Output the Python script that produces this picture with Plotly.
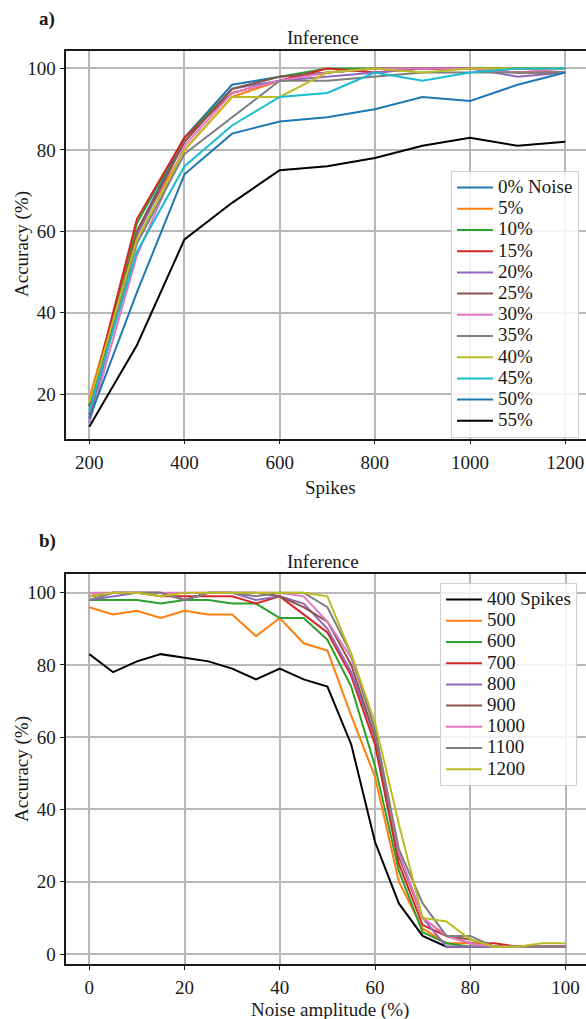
import plotly.graph_objects as go

# ---------------- data: panel a ----------------
spikes = [200, 300, 400, 500, 600, 700, 800, 900, 1000, 1100, 1200]
noise_labels = ["0% Noise", "5%", "10%", "15%", "20%", "25%", "30%", "35%",
                "40%", "45%", "50%", "55%"]
acc_n0 = [13, 60, 83, 96, 98, 99, 100, 100, 100, 100, 100]
acc_n5 = [19, 60, 80, 93, 97, 99, 100, 100, 100, 100, 100]
acc_n10 = [17, 62, 83, 95, 98, 100, 100, 100, 100, 100, 100]
acc_n15 = [17, 63, 83, 94, 97, 100, 99, 100, 100, 99, 99]
acc_n20 = [14, 59, 82, 95, 97, 98, 99, 100, 100, 98, 99]
acc_n25 = [15, 60, 82, 95, 98, 99, 100, 100, 100, 99, 99]
acc_n30 = [13, 54, 81, 94, 97, 99, 100, 100, 100, 99, 100]
acc_n35 = [15, 57, 79, 88, 97, 97, 98, 99, 99, 99, 99]
acc_n40 = [18, 58, 80, 93, 93, 99, 100, 99, 100, 100, 100]
acc_n45 = [16, 55, 76, 86, 93, 94, 99, 97, 99, 100, 100]
acc_n50 = [14, 45, 74, 84, 87, 88, 90, 93, 92, 96, 99]
acc_n55 = [12, 32, 58, 67, 75, 76, 78, 81, 83, 81, 82]

# ---------------- data: panel b ----------------
noise = [0, 5, 10, 15, 20, 25, 30, 35, 40, 45, 50, 55, 60, 65, 70, 75, 80, 85, 90, 95, 100]
spike_labels = ["400 Spikes", "500", "600", "700", "800", "900", "1000", "1100", "1200"]
acc_s400 = [83, 78, 81, 83, 82, 81, 79, 76, 79, 76, 74, 58, 31, 14, 5, 2, 2, 2, 2, 2, 2]
acc_s500 = [96, 94, 95, 93, 95, 94, 94, 88, 93, 86, 84, 66, 49, 20, 7, 3, 3, 2, 2, 2, 2]
acc_s600 = [98, 98, 98, 97, 98, 98, 97, 97, 93, 93, 87, 74, 52, 23, 6, 3, 2, 2, 2, 2, 2]
acc_s700 = [99, 100, 100, 99, 99, 99, 99, 97, 99, 94, 89, 77, 58, 25, 8, 5, 3, 3, 2, 2, 2]
acc_s800 = [98, 99, 100, 100, 98, 100, 100, 98, 99, 97, 90, 78, 60, 28, 10, 2, 2, 2, 2, 2, 2]
acc_s900 = [99, 100, 100, 100, 98, 100, 100, 100, 99, 96, 92, 80, 60, 27, 10, 5, 4, 2, 2, 2, 2]
acc_s1000 = [100, 100, 100, 100, 100, 100, 100, 100, 100, 99, 92, 82, 62, 28, 10, 5, 3, 2, 2, 2, 2]
acc_s1100 = [98, 100, 100, 100, 98, 100, 100, 99, 100, 100, 96, 83, 62, 29, 14, 5, 5, 2, 2, 2, 2]
acc_s1200 = [99, 100, 100, 99, 100, 100, 100, 100, 100, 100, 99, 83, 64, 36, 10, 9, 4, 2, 2, 3, 3]

series_a = [acc_n0, acc_n5, acc_n10, acc_n15, acc_n20, acc_n25, acc_n30, acc_n35,
            acc_n40, acc_n45, acc_n50, acc_n55]
series_b = [acc_s400, acc_s500, acc_s600, acc_s700, acc_s800, acc_s900, acc_s1000,
            acc_s1100, acc_s1200]

colors_a = ["#1f77b4", "#ff7f0e", "#2ca02c", "#d62728", "#9467bd", "#8c564b",
            "#e377c2", "#7f7f7f", "#bcbd22", "#17becf", "#1f77b4", "#000000"]
colors_b = ["#000000", "#ff7f0e", "#2ca02c", "#d62728", "#9467bd", "#8c564b",
            "#e377c2", "#7f7f7f", "#bcbd22"]

W, H = 586, 1019
FONT = "Liberation Serif, Times New Roman, serif"
FS = 19
LEG_TXT = '<span style="font-family:Liberation Serif;font-size:19px">%s</span>'

fig = go.Figure()
for name, ys, c in zip(noise_labels, series_a, colors_a):
    fig.add_trace(go.Scatter(x=spikes, y=ys, mode="lines", name=LEG_TXT % name,
                             line=dict(color=c, width=2), xaxis="x", yaxis="y",
                             legend="legend"))
for name, ys, c in zip(spike_labels, series_b, colors_b):
    fig.add_trace(go.Scatter(x=noise, y=ys, mode="lines", name=LEG_TXT % name,
                             line=dict(color=c, width=2), xaxis="x2", yaxis="y2",
                             legend="legend2"))

def px_x(p):
    return p / W

def px_y(p):
    return 1 - p / H

axis_common = dict(showgrid=True, gridcolor="#b8b8b8", gridwidth=1.5,
                   zeroline=False, showline=True, linecolor="#1a1a1a", linewidth=1.8,
                   ticks="outside", ticklen=4, tickwidth=1.3, tickcolor="#1a1a1a",
                   tickfont=dict(family=FONT, size=FS, color="#1a1a1a"))

xdom = [px_x(65.5), 1.0]
fig.update_layout(
    width=W, height=H,
    margin=dict(l=0, r=0, t=0, b=0),
    paper_bgcolor="white", plot_bgcolor="white",
    font=dict(family=FONT, size=FS, color="#1a1a1a"),
    xaxis=dict(domain=xdom, range=[150, 1243.7], tickvals=[200, 400, 600, 800, 1000, 1200],
               mirror=True, anchor="y", ticklabelstandoff=2, **axis_common),
    yaxis=dict(domain=[px_y(438.5), px_y(50.7)], range=[9.1, 104.37],
               tickvals=[20, 40, 60, 80, 100], anchor="x", **axis_common),
    xaxis2=dict(domain=xdom, range=[-5, 104.3], tickvals=[0, 20, 40, 60, 80, 100],
                mirror=True, anchor="y2", ticklabelstandoff=1, **axis_common),
    yaxis2=dict(domain=[px_y(964.3), px_y(574.3)], range=[-2.85, 105.1],
                tickvals=[0, 20, 40, 60, 80, 100], anchor="x2", **axis_common),
    legend=dict(x=px_x(451), y=px_y(171), xanchor="left", yanchor="top",
                itemwidth=36,
                bgcolor="rgba(255,255,255,0.82)", bordercolor="#d0d0d0", borderwidth=1,
                font=dict(family=FONT, size=14, color="#1a1a1a")),
    legend2=dict(x=px_x(440), y=px_y(583), xanchor="left", yanchor="top",
                 itemwidth=36,
                 bgcolor="rgba(255,255,255,0.82)", bordercolor="#d0d0d0", borderwidth=1,
                 font=dict(family=FONT, size=14, color="#1a1a1a")),
    showlegend=True,
)

ann = [
    dict(text="<b>a)</b>", x=px_x(47), y=px_y(18.5)),
    dict(text="<b>b)</b>", x=px_x(47), y=px_y(541)),
    dict(text="Inference", x=px_x(323), y=px_y(38)),
    dict(text="Inference", x=px_x(323), y=px_y(561)),
    dict(text="Spikes", x=px_x(330), y=px_y(488)),
    dict(text="Noise amplitude (%)", x=px_x(330), y=px_y(1010)),
    dict(text="Accuracy (%)", x=px_x(22), y=px_y(244), textangle=-90),
    dict(text="Accuracy (%)", x=px_x(22), y=px_y(769), textangle=-90),
]
for a in ann:
    fig.add_annotation(xref="paper", yref="paper", showarrow=False,
                       xanchor="center", yanchor="middle",
                       font=dict(family=FONT, size=FS, color="#1a1a1a"), **a)

fig.write_html("out.html")
